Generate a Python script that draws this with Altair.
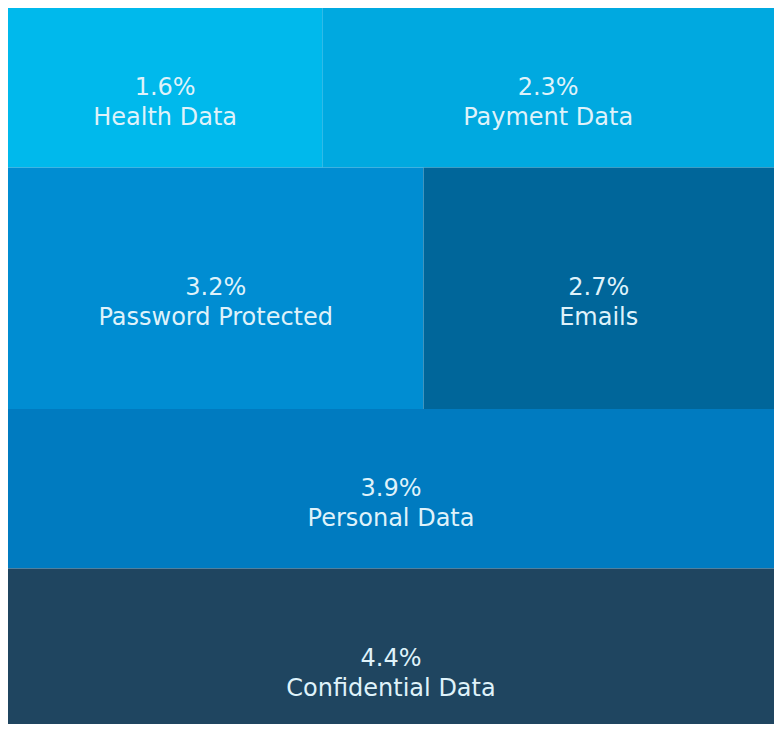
import altair as alt
import pandas as pd

# Data
categories = ["Health Data", "Payment Data", "Password Protected", "Emails",
              "Personal Data", "Confidential Data"]
shares = [1.6, 2.3, 3.2, 2.7, 3.9, 4.4]
row_of = [0, 0, 1, 1, 2, 3]          # treemap row each tile belongs to
palette = ["#00B9EC", "#00A9E0", "#008DD2", "#00669A", "#007BC0", "#1F4560"]

# Slice-and-dice treemap layout computed from the shares
df = pd.DataFrame({"cat": categories, "share": shares, "row": row_of})
row_tot = df.groupby("row")["share"].sum()
row_start = row_tot.cumsum() - row_tot
df["y0"] = df["row"].map(row_start)
df["y1"] = df["y0"] + df["row"].map(row_tot)
df["x1"] = df.groupby("row")["share"].cumsum() / df["row"].map(row_tot)
df["x0"] = df["x1"] - df["share"] / df["row"].map(row_tot)
df["xc"] = (df["x0"] + df["x1"]) / 2
df["yc"] = (df["y0"] + df["y1"]) / 2
df["label"] = df["share"].map(lambda v: f"{v:.1f}%") + "\n" + df["cat"]

# the picture is a crop: the bottom tile runs past the lower edge
visible_to = 17.5

xs = alt.Scale(domain=[0, 1], nice=False, zero=False)
ys = alt.Scale(domain=[0, visible_to], nice=False, zero=False, reverse=True)

rects = alt.Chart(df).mark_rect(strokeWidth=0, clip=True).encode(
    x=alt.X("x0:Q", scale=xs, axis=None),
    x2="x1:Q",
    y=alt.Y("y0:Q", scale=ys, axis=None),
    y2="y1:Q",
    color=alt.Color("cat:N", scale=alt.Scale(domain=categories, range=palette), legend=None),
)

labels = alt.Chart(df).mark_text(
    lineBreak="\n", lineHeight=30, fontSize=24, font="DejaVu Sans",
    color="#DFF2FA", align="center", baseline="middle",
).encode(
    x=alt.X("xc:Q", scale=xs, axis=None),
    y=alt.Y("yc:Q", scale=ys, axis=None),
    text="label:N",
)

chart = (rects + labels).properties(width=766, height=716, padding=0).configure_view(stroke=None)

chart.save("out.html", embed_options={"renderer": "svg", "actions": False})
